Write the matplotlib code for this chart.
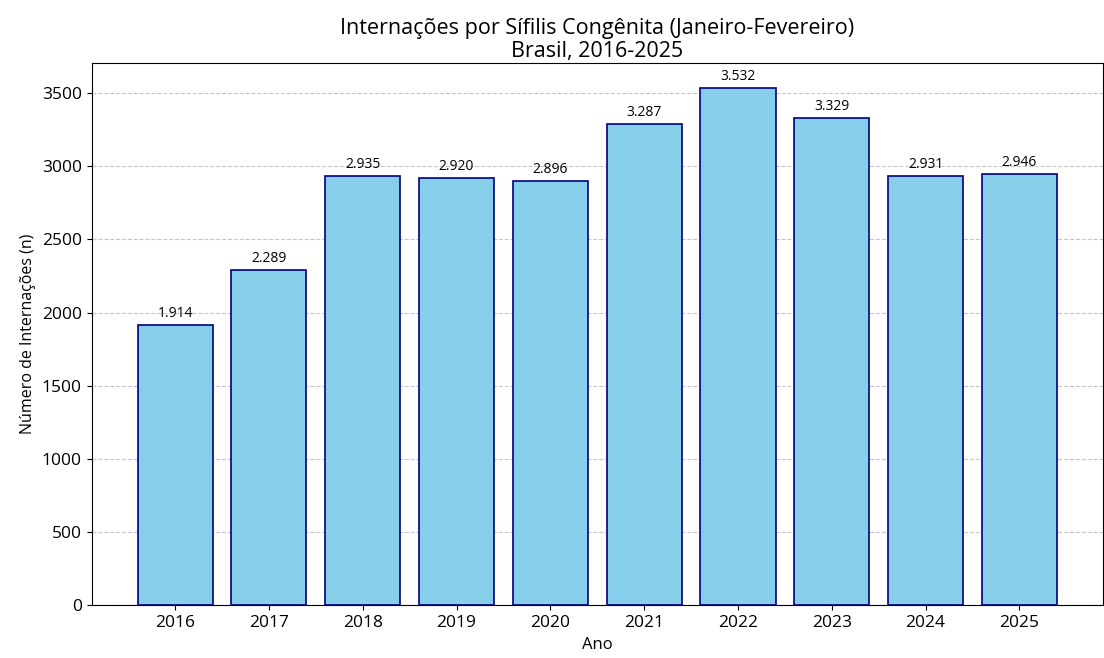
import matplotlib
matplotlib.use('Agg')
import matplotlib.pyplot as plt

plt.rcParams['font.family'] = ['Open Sans', 'DejaVu Sans']

anos = ['2016', '2017', '2018', '2019', '2020', '2021', '2022', '2023', '2024', '2025']
internacoes = [1914, 2289, 2935, 2920, 2896, 3287, 3532, 3329, 2931, 2946]

fig, ax = plt.subplots(figsize=(11.04, 6.58), dpi=100)

bars = ax.bar(anos, internacoes, color='skyblue', edgecolor='navy', linewidth=1.2, zorder=3)

for bar, v in zip(bars, internacoes):
    label = f'{v:,}'.replace(',', '.')
    ax.annotate(label, (bar.get_x() + bar.get_width() / 2, bar.get_height()),
                xytext=(0, 3), textcoords='offset points',
                ha='center', va='bottom', fontsize=10)

ax.set_title('Internações por Sífilis Congênita (Janeiro-Fevereiro)\nBrasil, 2016-2025',
             fontsize=15.5, linespacing=1.15, pad=4)
ax.set_xlabel('Ano', fontsize=12)
ax.set_ylabel('Número de Internações (n)', fontsize=11.5)
ax.tick_params(axis='both', labelsize=12.5)
ax.grid(axis='y', linestyle='--', alpha=0.7, zorder=0)

fig.subplots_adjust(left=0.083, right=0.999, top=0.905, bottom=0.08)
fig.savefig('out.png', dpi=100)
